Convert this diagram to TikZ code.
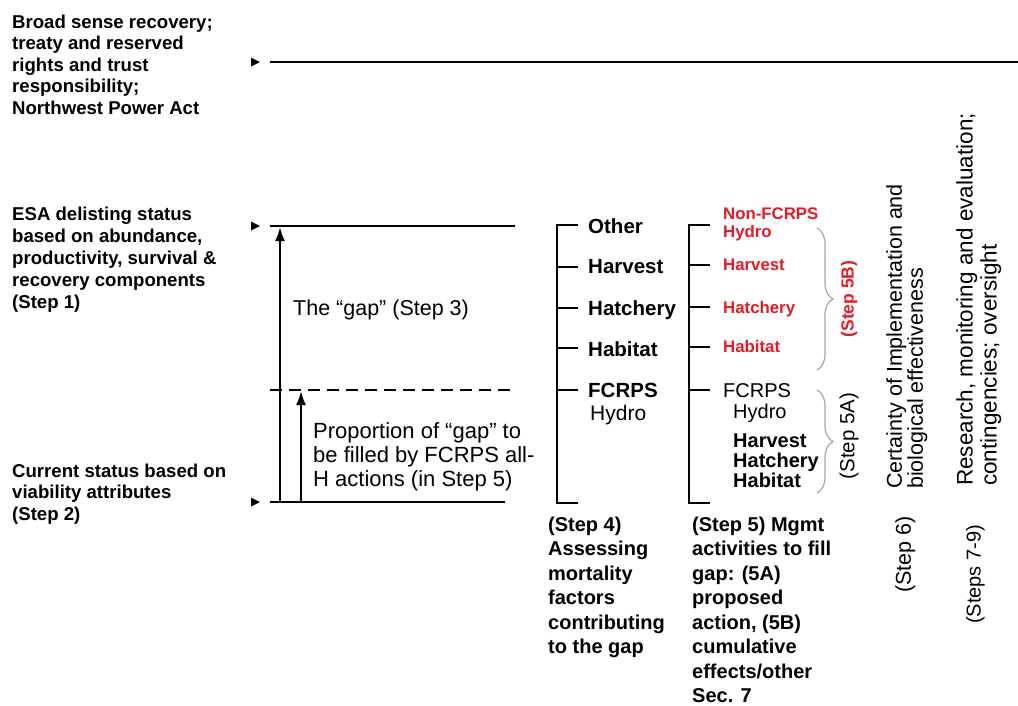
\documentclass[tikz,border=0pt]{standalone}
\usepackage{fontspec}
\setmainfont{Liberation Sans}
\usetikzlibrary{arrows.meta,decorations.pathreplacing}
\definecolor{altred}{RGB}{228,26,38}
\definecolor{bracegray}{RGB}{165,165,165}

\begin{document}
\begin{tikzpicture}[x=1pt,y=-1pt]
    \tikzset{level/.style = {draw, line width=2.3pt}}
    \tikzset{txt/.style = {inner sep=0pt, align=left}}
    \tikzset{sbrace/.style = {draw=bracegray, line width=1.2pt, decorate, decoration={brace, amplitude=16pt}}}
    \tikzset{up/.style = {level, -{Latex[length=14pt, width=10pt]}}}
    \useasboundingbox (0,0) rectangle (1018,705);

    % left texts
    \node[txt, anchor=north west, font=\bfseries\fontsize{18.6}{21.5}\selectfont] (broad) at (12,14.5)
        {Broad sense recovery;\\treaty and reserved\\rights and trust\\responsibility;\\Northwest Power Act};
    \node[txt, anchor=north west, font=\bfseries\fontsize{18.6}{22}\selectfont] (esa) at (12,206.4)
        {ESA delisting status\\based on abundance,\\productivity, survival \&\\recovery components\\(Step 1)};
    \node[txt, anchor=north west, font=\bfseries\fontsize{18.6}{21.5}\selectfont] (cur) at (12,463.4)
        {Current status based on\\viability attributes\\(Step 2)};

    % levels
    \coordinate (m-top) at (251,62);
    \coordinate (m-esa) at (251,226);
    \coordinate (m-cur) at (251,502);
    \foreach \m in {m-top,m-esa,m-cur}
        \fill (\m) ++(0,-4.5) -- ++(9,4.5) -- ++(-9,4.5) -- cycle;
    \coordinate (top-l) at (270,62);   \coordinate (top-r) at (1018,62);
    \coordinate (esa-l) at (270,226);  \coordinate (esa-r) at (515,226);
    \coordinate (dash-l) at (270,390); \coordinate (dash-r) at (515,390);
    \coordinate (cur-l) at (270,502);  \coordinate (cur-r) at (505,502);
    \draw[level] (top-l) -- (top-r);
    \draw[level] (esa-l) -- (esa-r);
    \draw[level, dash pattern=on 12pt off 7pt] (dash-l) -- (dash-r);
    \draw[level] (cur-l) -- (cur-r);

    % gap arrows
    \coordinate (gap-b) at (280,502);  \coordinate (gap-t) at (280,227);
    \coordinate (prop-b) at (301,502); \coordinate (prop-t) at (301,391);
    \draw[up] (gap-b) -- (gap-t);
    \draw[up] (prop-b) -- (prop-t);
    \node[txt, anchor=base west, font=\fontsize{21.5}{24}\selectfont] (gap) at (293,315) {The ``gap'' (Step 3)};
    \node[txt, anchor=north west, font=\fontsize{22}{24}\selectfont] (prop) at (313,422)
        {Proportion of ``gap'' to\\be filled by FCRPS all-\\H actions (in Step 5)};

    % step 4
    \draw[level] (578,225) -- (557,225) -- (557,503) -- (578,503);
    \foreach \y in {267,308,348,390}
        \draw[level] (557,\y) -- (578,\y);
    \begin{scope}[every node/.style={txt, anchor=base west, font=\bfseries\fontsize{20.5}{24}\selectfont}]
        \node (oth4) at (588,233) {Other};
        \node (har4) at (588,273) {Harvest};
        \node (hat4) at (588,315) {Hatchery};
        \node (hab4) at (588,356) {Habitat};
        \node (fc4) at (588,397) {FCRPS};
    \end{scope}
    \node[txt, anchor=base west, font=\fontsize{21}{24}\selectfont] (hy4) at (590,420) {Hydro};
    \node[txt, anchor=north west, font=\bfseries\fontsize{20}{24.5}\selectfont] (s4) at (548,516.5)
        {(Step 4)\\Assessing\\mortality\\factors\\contributing\\to the gap};

    % step 5
    \draw[level] (710,225) -- (689,225) -- (689,503) -- (710,503);
    \foreach \y in {265,307,347,390}
        \draw[level] (689,\y) -- (710,\y);
    \begin{scope}[every node/.style={txt, text=altred, font=\bfseries\fontsize{16.8}{18}\selectfont}]
        \node[anchor=north west] (non5) at (723,207.7) {Non-FCRPS\\Hydro};
        \node[anchor=base west] (har5) at (723,270) {Harvest};
        \node[anchor=base west] (hat5) at (723,313) {Hatchery};
        \node[anchor=base west] (hab5) at (723,352) {Habitat};
    \end{scope}
    \node[txt, anchor=base west, font=\fontsize{20}{20}\selectfont] (fc5) at (723,397) {FCRPS};
    \node[txt, anchor=base west, font=\fontsize{20}{20}\selectfont] (hy5) at (733,418) {Hydro};
    \node[txt, anchor=north west, font=\bfseries\fontsize{20}{20}\selectfont] (all5) at (733,433.4)
        {Harvest\\Hatchery\\Habitat};
    \node[txt, anchor=north west, font=\bfseries\fontsize{20}{24.5}\selectfont] (s5) at (692,516.5)
        {(Step 5) Mgmt\\activities to fill\\gap: (5A)\\proposed\\action, (5B)\\cumulative\\effects/other\\Sec. 7};

    % braces
    \coordinate (b5b-t) at (817,228); \coordinate (b5b-b) at (817,370);
    \coordinate (b5a-t) at (817,390); \coordinate (b5a-b) at (817,493);
    \draw[sbrace] (b5b-t) -- (b5b-b);
    \draw[sbrace] (b5a-t) -- (b5a-b);
    \node[txt, rotate=90, text=altred, font=\bfseries\fontsize{17.5}{20}\selectfont] (s5b) at (849,299) {(Step 5B)};
    \node[txt, rotate=90, font=\fontsize{20.5}{20}\selectfont] (s5a) at (849,436) {(Step 5A)};

    % steps 6 to 9
    \node[txt, rotate=90, anchor=north west, font=\fontsize{21.5}{21}\selectfont] (cert) at (886,489)
        {Certainty of Implementation and\\biological effectiveness};
    \node[txt, rotate=90, anchor=north west, font=\fontsize{21.5}{24}\selectfont] (s6) at (895,593) {(Step 6)};
    \node[txt, rotate=90, anchor=north west, font=\fontsize{22.5}{24}\selectfont] (rme) at (956,486)
        {Research, monitoring and evaluation;\\contingencies; oversight};
    \node[txt, rotate=90, anchor=north west, font=\fontsize{20}{24}\selectfont] (s79) at (966,624) {(Steps 7-9)};
\end{tikzpicture}
\end{document}
